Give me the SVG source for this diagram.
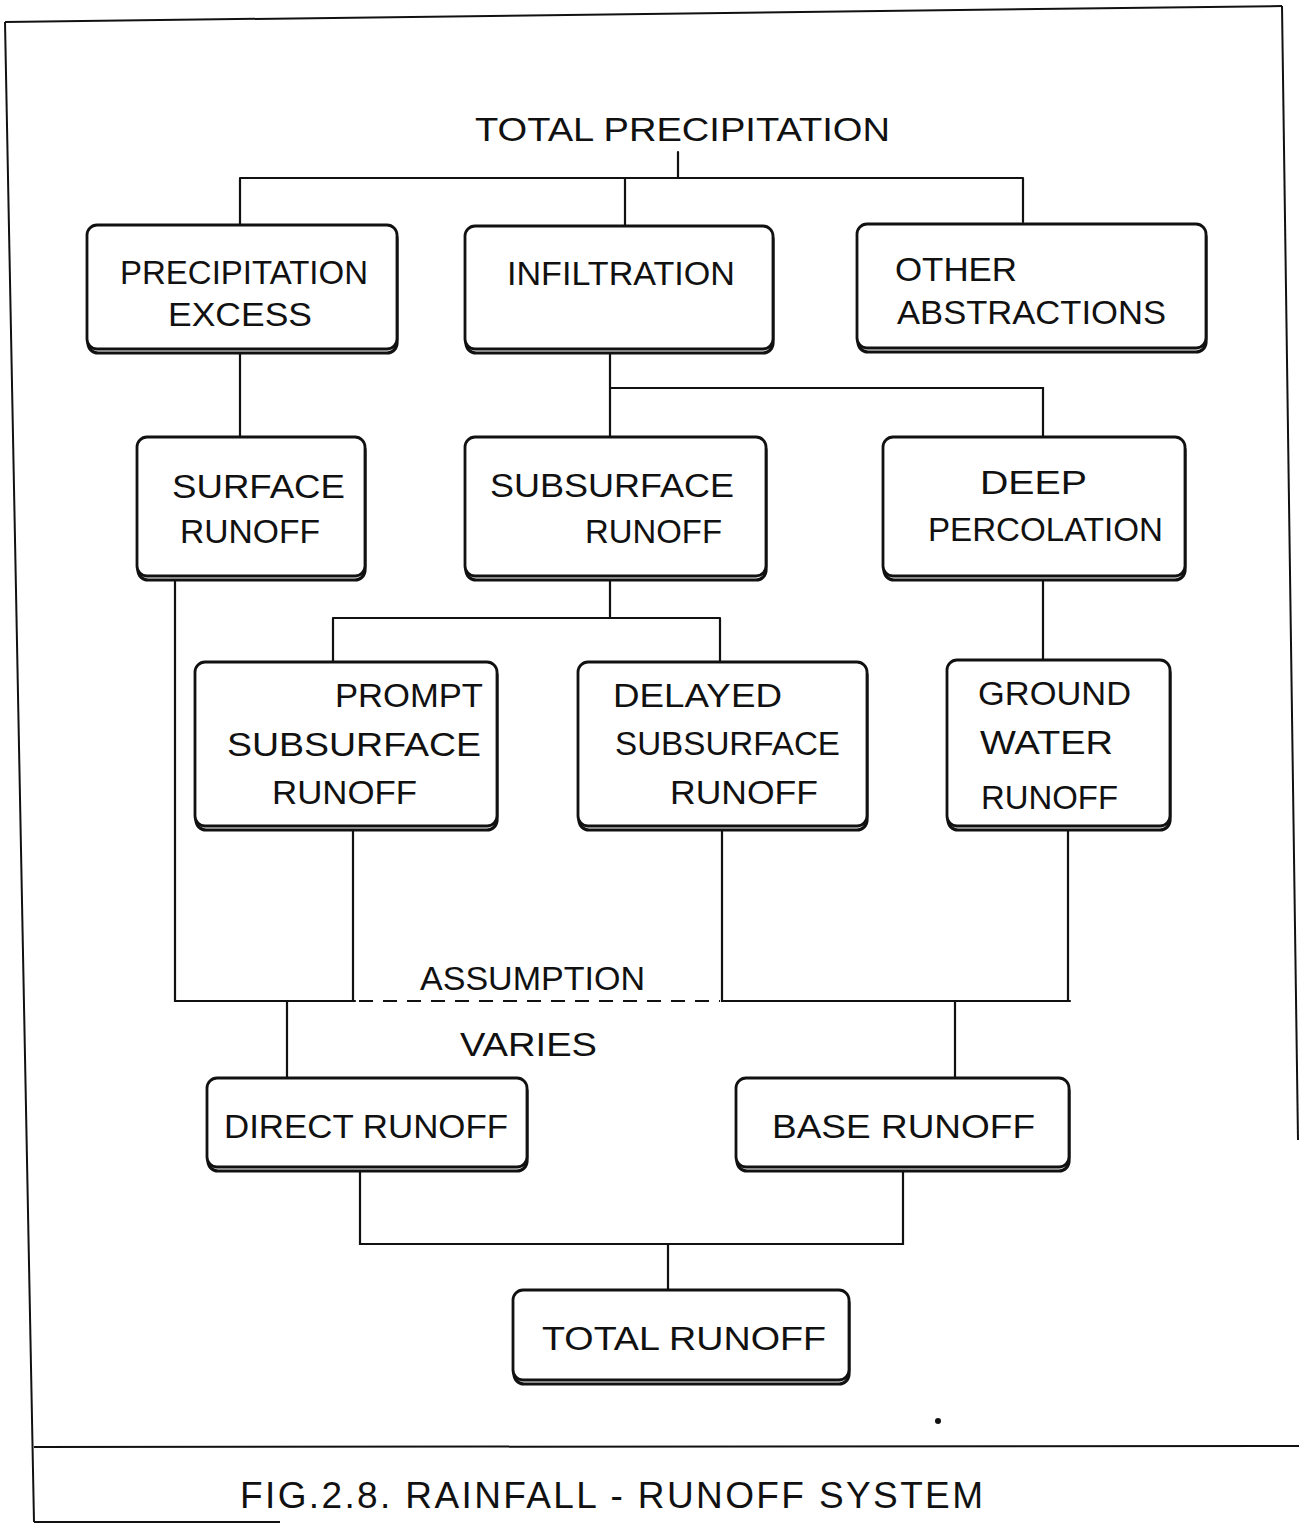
<svg xmlns="http://www.w3.org/2000/svg" width="1299" height="1527" viewBox="0 0 1299 1527">
<style>
.ln{fill:none;stroke:#111;stroke-width:2.2;stroke-linecap:round}
.dash{fill:none;stroke:#111;stroke-width:2.2;stroke-dasharray:14 10}
.box{fill:#fff;stroke:#111;stroke-width:2.8}
.sh{fill:#fff;stroke:#111;stroke-width:3.2}
.t{font-family:"Liberation Sans",Arial,sans-serif;font-size:33px;fill:#111}
.cap{font-family:"Liberation Sans",Arial,sans-serif;font-size:37px;fill:#111}
.fr{fill:none;stroke:#111;stroke-width:2}
</style>
<rect width="1299" height="1527" fill="#fff"/>
<g id="frame">
<path class="fr" d="M5,22 L1282,6"/>
<path class="fr" d="M5,22 L34,1522"/>
<path class="fr" d="M1282,6 L1298,1140"/>
<path class="fr" stroke-width="3" d="M34,1447 L1299,1446"/>
<path class="fr" d="M34,1522 L280,1522"/>
<circle cx="938" cy="1421" r="3" fill="#111"/>
</g>
<g id="connectors">
<path class="ln" d="M678,152 V178 M240,178 H1023 M240,178 V225 M625,178 V226 M1023,178 V222"/>
<path class="ln" d="M240,350 V437"/>
<path class="ln" d="M610,350 V437 M610,388 H1043 V437"/>
<path class="ln" d="M610,577 V618 M333,618 H720 M333,618 V662 M720,618 V662"/>
<path class="ln" d="M1043,577 V660"/>
<path class="ln" d="M175,577 V1001 H355 M353,827 V1001"/>
<path class="dash" d="M359,1001 H720"/>
<path class="ln" d="M722,827 V1001 H1070 M1068,827 V1001"/>
<path class="ln" d="M287,1001 V1078 M955,1001 V1078"/>
<path class="ln" d="M360,1168 V1244 H903 V1168 M668,1244 V1290"/>
</g>
<g id="title">
<text class="t" x="475" y="141" textLength="415" lengthAdjust="spacingAndGlyphs">TOTAL PRECIPITATION</text>
</g>
<g id="precipitation-excess">
<rect class="sh" x="88" y="229" width="309" height="124" rx="10"/>
<rect class="box" x="87" y="225" width="310" height="124" rx="10"/>
<text class="t" x="120" y="284" textLength="248" lengthAdjust="spacingAndGlyphs">PRECIPITATION</text>
<text class="t" x="168" y="326" textLength="144" lengthAdjust="spacingAndGlyphs">EXCESS</text>
</g>
<g id="infiltration">
<rect class="sh" x="466" y="230" width="307" height="123" rx="10"/>
<rect class="box" x="465" y="226" width="308" height="123" rx="10"/>
<text class="t" x="507" y="285" textLength="228" lengthAdjust="spacingAndGlyphs">INFILTRATION</text>
</g>
<g id="other-abstractions">
<rect class="sh" x="858" y="228" width="348" height="124" rx="10"/>
<rect class="box" x="857" y="224" width="349" height="124" rx="10"/>
<text class="t" x="895" y="281" textLength="122" lengthAdjust="spacingAndGlyphs">OTHER</text>
<text class="t" x="897" y="324" textLength="269" lengthAdjust="spacingAndGlyphs">ABSTRACTIONS</text>
</g>
<g id="surface-runoff">
<rect class="sh" x="138" y="441" width="227" height="139" rx="10"/>
<rect class="box" x="137" y="437" width="228" height="139" rx="10"/>
<text class="t" x="172" y="498" textLength="173" lengthAdjust="spacingAndGlyphs">SURFACE</text>
<text class="t" x="180" y="543" textLength="140" lengthAdjust="spacingAndGlyphs">RUNOFF</text>
</g>
<g id="subsurface-runoff">
<rect class="sh" x="466" y="441" width="300" height="139" rx="10"/>
<rect class="box" x="465" y="437" width="301" height="139" rx="10"/>
<text class="t" x="490" y="497" textLength="244" lengthAdjust="spacingAndGlyphs">SUBSURFACE</text>
<text class="t" x="585" y="543" textLength="137" lengthAdjust="spacingAndGlyphs">RUNOFF</text>
</g>
<g id="deep-percolation">
<rect class="sh" x="884" y="441" width="301" height="139" rx="10"/>
<rect class="box" x="883" y="437" width="302" height="139" rx="10"/>
<text class="t" x="980" y="494" textLength="107" lengthAdjust="spacingAndGlyphs">DEEP</text>
<text class="t" x="928" y="541" textLength="235" lengthAdjust="spacingAndGlyphs">PERCOLATION</text>
</g>
<g id="prompt-subsurface-runoff">
<rect class="sh" x="196" y="666" width="301" height="164" rx="10"/>
<rect class="box" x="195" y="662" width="302" height="164" rx="10"/>
<text class="t" x="335" y="707" textLength="148" lengthAdjust="spacingAndGlyphs">PROMPT</text>
<text class="t" x="227" y="756" textLength="254" lengthAdjust="spacingAndGlyphs">SUBSURFACE</text>
<text class="t" x="272" y="804" textLength="145" lengthAdjust="spacingAndGlyphs">RUNOFF</text>
</g>
<g id="delayed-subsurface-runoff">
<rect class="sh" x="579" y="666" width="288" height="164" rx="10"/>
<rect class="box" x="578" y="662" width="289" height="164" rx="10"/>
<text class="t" x="613" y="707" textLength="169" lengthAdjust="spacingAndGlyphs">DELAYED</text>
<text class="t" x="615" y="755" textLength="225" lengthAdjust="spacingAndGlyphs">SUBSURFACE</text>
<text class="t" x="670" y="804" textLength="148" lengthAdjust="spacingAndGlyphs">RUNOFF</text>
</g>
<g id="ground-water-runoff">
<rect class="sh" x="948" y="664" width="222" height="166" rx="10"/>
<rect class="box" x="947" y="660" width="223" height="166" rx="10"/>
<text class="t" x="978" y="705" textLength="153" lengthAdjust="spacingAndGlyphs">GROUND</text>
<text class="t" x="980" y="754" textLength="133" lengthAdjust="spacingAndGlyphs">WATER</text>
<text class="t" x="981" y="809" textLength="137" lengthAdjust="spacingAndGlyphs">RUNOFF</text>
</g>
<g id="assumption-label">
<text class="t" x="420" y="990" textLength="225" lengthAdjust="spacingAndGlyphs">ASSUMPTION</text>
<text class="t" x="460" y="1056" textLength="137" lengthAdjust="spacingAndGlyphs">VARIES</text>
</g>
<g id="direct-runoff">
<rect class="sh" x="208" y="1082" width="319" height="89" rx="10"/>
<rect class="box" x="207" y="1078" width="320" height="89" rx="10"/>
<text class="t" x="224" y="1138" textLength="284" lengthAdjust="spacingAndGlyphs">DIRECT RUNOFF</text>
</g>
<g id="base-runoff">
<rect class="sh" x="737" y="1082" width="332" height="89" rx="10"/>
<rect class="box" x="736" y="1078" width="333" height="89" rx="10"/>
<text class="t" x="772" y="1138" textLength="263" lengthAdjust="spacingAndGlyphs">BASE RUNOFF</text>
</g>
<g id="total-runoff">
<rect class="sh" x="514" y="1294" width="335" height="90" rx="10"/>
<rect class="box" x="513" y="1290" width="336" height="90" rx="10"/>
<text class="t" x="542" y="1350" textLength="284" lengthAdjust="spacingAndGlyphs">TOTAL RUNOFF</text>
</g>
<g id="caption">
<text class="cap" x="240" y="1508" textLength="743" lengthAdjust="spacing">FIG.2.8.  RAINFALL - RUNOFF  SYSTEM</text>
</g>
</svg>
